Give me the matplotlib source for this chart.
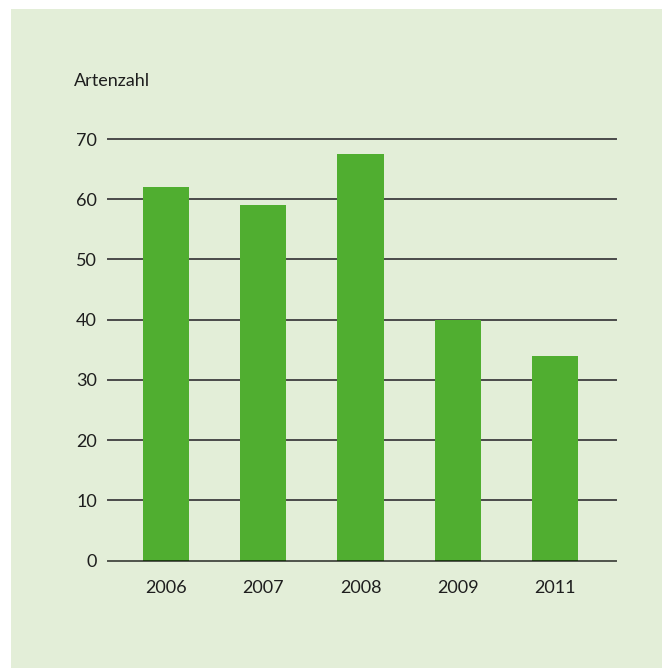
import matplotlib.pyplot as plt
from matplotlib.patches import Rectangle

years = ["2006", "2007", "2008", "2009", "2011"]
artenzahl = [62, 59, 67.5, 40, 34]
y_ticks = [0, 10, 20, 30, 40, 50, 60, 70]

bg = "#e3eed8"
bar_color = "#50ae30"
text_color = "#1e1e1e"

plt.rcParams["font.family"] = ["Lato", "DejaVu Sans"]

W, H = 662, 668
fig = plt.figure(figsize=(W / 100, H / 100), dpi=100, facecolor="white")
# light green panel with a thin white margin top and left
fig.patches.append(Rectangle((11 / W, 0), 1 - 11 / W, 1 - 9 / H, transform=fig.transFigure,
                             facecolor=bg, edgecolor="none", zorder=-10))

ax = fig.add_axes([108 / W, (H - 560.7) / H, 508 / W, 421.7 / H])
ax.patch.set_alpha(0)

x = range(len(years))
ax.bar(x, artenzahl, width=0.475, color=bar_color, zorder=2)

# horizontal lines behind the bars, baseline on top
for v in y_ticks[1:]:
    ax.axhline(v, color="#4a4a4a", linewidth=1.4, zorder=1, clip_on=False)
ax.axhline(0, color="black", alpha=0.65, linewidth=1.4, zorder=3, clip_on=False)

ax.set_xlim(-0.6, 4.63)
ax.set_ylim(0, 70)
ax.set_xticks(list(x))
ax.set_xticklabels(years)
ax.set_yticks(y_ticks)
ax.tick_params(axis="both", length=0, labelsize=13, colors=text_color)
ax.tick_params(axis="y", pad=8)
ax.tick_params(axis="x", pad=14)
for s in ax.spines.values():
    s.set_visible(False)

fig.text(74 / W, 1 - 86 / H, "Artenzahl", fontsize=13, color=text_color,
         ha="left", va="baseline")

fig.savefig("out.png", dpi=100, facecolor="white")
